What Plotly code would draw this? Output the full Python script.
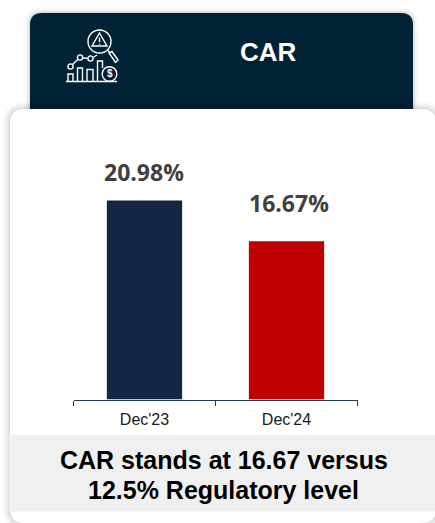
import plotly.graph_objects as go

categories = ["Dec'23", "Dec'24"]
car_values = [20.98, 16.67]
value_labels = ["20.98%", "16.67%"]
bar_colors = ["#122644", "#c00000"]
title_text = "CAR"
footer_lines = ["CAR stands at 16.67 versus", "12.5% Regulatory level"]

W, H = 435, 523
def X(p): return p / W
def Y(p): return 1 - p / H

def rounded_top(x0, y0, x1, y1, r):
    return (f"M{X(x0)},{Y(y1)} L{X(x0)},{Y(y0+r)} Q{X(x0)},{Y(y0)} {X(x0+r)},{Y(y0)} "
            f"L{X(x1-r)},{Y(y0)} Q{X(x1)},{Y(y0)} {X(x1)},{Y(y0+r)} L{X(x1)},{Y(y1)} Z")

def rounded_all(x0, y0, x1, y1, r):
    return (f"M{X(x0)},{Y(y1-r)} L{X(x0)},{Y(y0+r)} Q{X(x0)},{Y(y0)} {X(x0+r)},{Y(y0)} "
            f"L{X(x1-r)},{Y(y0)} Q{X(x1)},{Y(y0)} {X(x1)},{Y(y0+r)} L{X(x1)},{Y(y1-r)} "
            f"Q{X(x1)},{Y(y1)} {X(x1-r)},{Y(y1)} L{X(x0+r)},{Y(y1)} Q{X(x0)},{Y(y1)} {X(x0)},{Y(y1-r)} Z")

shapes = []
def add_path(path, fill=None, line=None, width=1.4):
    shapes.append(dict(type="path", xref="paper", yref="paper", path=path,
                       fillcolor=fill or "rgba(0,0,0,0)",
                       line=dict(color=line or "rgba(0,0,0,0)", width=width if line else 0),
                       layer="below"))
def add_circle(cx, cy, r, fill=None, line="white", width=1.4):
    shapes.append(dict(type="circle", xref="paper", yref="paper",
                       x0=X(cx-r), x1=X(cx+r), y0=Y(cy+r), y1=Y(cy-r),
                       fillcolor=fill or "rgba(0,0,0,0)", line=dict(color=line, width=width), layer="below"))
def add_poly(points, line="white", width=1.4, close=False):
    p = "M" + " L".join(f"{X(a)},{Y(b)}" for a, b in points) + (" Z" if close else "")
    add_path(p, line=line, width=width)
def add_rect(x0, y0, x1, y1, fill):
    shapes.append(dict(type="rect", xref="paper", yref="paper", x0=X(x0), x1=X(x1), y0=Y(y1), y1=Y(y0),
                       fillcolor=fill, line=dict(width=0), layer="below"))

# header shadow and panel
for i, a in [(6, 0.01), (5, 0.012), (4, 0.015), (3, 0.02), (2, 0.03), (1, 0.06)]:
    add_path(rounded_top(30-i, 13-i, 413+i, 112, 12+i), fill=f"rgba(0,0,0,{a})")
add_path(rounded_top(30, 13, 413, 112, 12), fill="#012235")
# main card shadow and panel
for i, a in [(8, 0.008), (7, 0.01), (6, 0.012), (5, 0.015), (4, 0.018), (3, 0.02), (2, 0.025), (1, 0.03)]:
    add_path(rounded_all(10-i, 109-i, 436+i, 523+i, 14+i), fill=f"rgba(0,0,0,{a})")
add_path(rounded_all(10, 109, 436, 523, 14), fill="white")
add_rect(9, 435, 436, 511.5, "#f0f0f0")

# icon
add_circle(99.5, 41.5, 11.5)
add_poly([(99.5, 33), (107, 46), (92, 46)], close=True)
add_poly([(99.5, 37.5), (99.5, 42)])
add_poly([(99.5, 43.5), (99.5, 44.5)])
add_poly([(107.5, 50), (110, 53)])
add_poly([(109, 53), (112, 51.5), (118, 60), (115.5, 62.5)], close=True)
add_circle(70.5, 66.5, 2.6)
add_circle(80, 57.5, 2.6)
add_circle(90.5, 58.5, 2.6)
add_poly([(72.5, 64.5), (78, 59.3)])
add_poly([(82.6, 58), (88, 58.3)])
add_poly([(93, 57.5), (97, 55)])
add_poly([(66, 81.5), (117, 81.5)])
add_poly([(68, 81.5), (68, 74), (73, 74), (73, 81.5)])
add_poly([(77.5, 81.5), (77.5, 68), (82.5, 68), (82.5, 81.5)])
add_poly([(87, 81.5), (87, 69.5), (93, 69.5), (93, 81.5)])
add_poly([(97.5, 81.5), (97.5, 61), (102.5, 61), (102.5, 68)])
add_circle(109.5, 74, 7.3)

fig = go.Figure(go.Bar(
    x=categories, y=car_values, marker=dict(color=bar_colors, line=dict(width=0)),
    width=0.53, cliponaxis=False,
))

label_font = dict(family="Open Sans", size=23, color="#404040", weight="bold")
annotations = [
    dict(text=title_text, xref="paper", yref="paper", x=X(268), y=Y(52), showarrow=False,
         xanchor="center", yanchor="middle",
         font=dict(family="Liberation Sans", size=26, color="white", weight="bold")),
    dict(text="$", xref="paper", yref="paper", x=X(109.5), y=Y(74), showarrow=False,
         xanchor="center", yanchor="middle",
         font=dict(family="Liberation Sans", size=10, color="white", weight="bold")),
]
for line, py in zip(footer_lines, (459.5, 489.5)):
    annotations.append(dict(text=line, xref="paper", yref="paper", x=X(223.5), y=Y(py), showarrow=False,
                            xanchor="center", yanchor="middle",
                            font=dict(family="Liberation Sans", size=25, color="black", weight="bold")))
for cat, val, lab, dx, dy in zip(categories, car_values, value_labels, (-0.5, 2), (28, 38)):
    annotations.append(dict(text=lab, x=cat, y=val, xref="x", yref="y", showarrow=False,
                            xanchor="center", yanchor="middle", xshift=dx, yshift=dy, font=label_font))

fig.update_layout(
    width=W, height=H, autosize=False, showlegend=False,
    margin=dict(l=0, r=0, t=0, b=0), paper_bgcolor="white", plot_bgcolor="rgba(0,0,0,0)",
    shapes=shapes, annotations=annotations, bargap=0.47,
    xaxis=dict(domain=[X(73.5), X(357.5)], anchor="y", showline=True, linecolor="#1f3a55", linewidth=1,
               ticks="outside", ticklen=5, tickcolor="#1f3a55", tickson="boundaries", showgrid=False,
               ticklabelstandoff=5,
               tickfont=dict(family="Liberation Sans", size=16, color="#1a1a1a")),
    yaxis=dict(domain=[Y(399.5), Y(140)], range=[0, 27.35], visible=False, showgrid=False, zeroline=False),
)
fig.write_html("out.html", config=dict(displayModeBar=False),
               post_script="document.body.style.margin='0';document.body.style.overflow='hidden';")
